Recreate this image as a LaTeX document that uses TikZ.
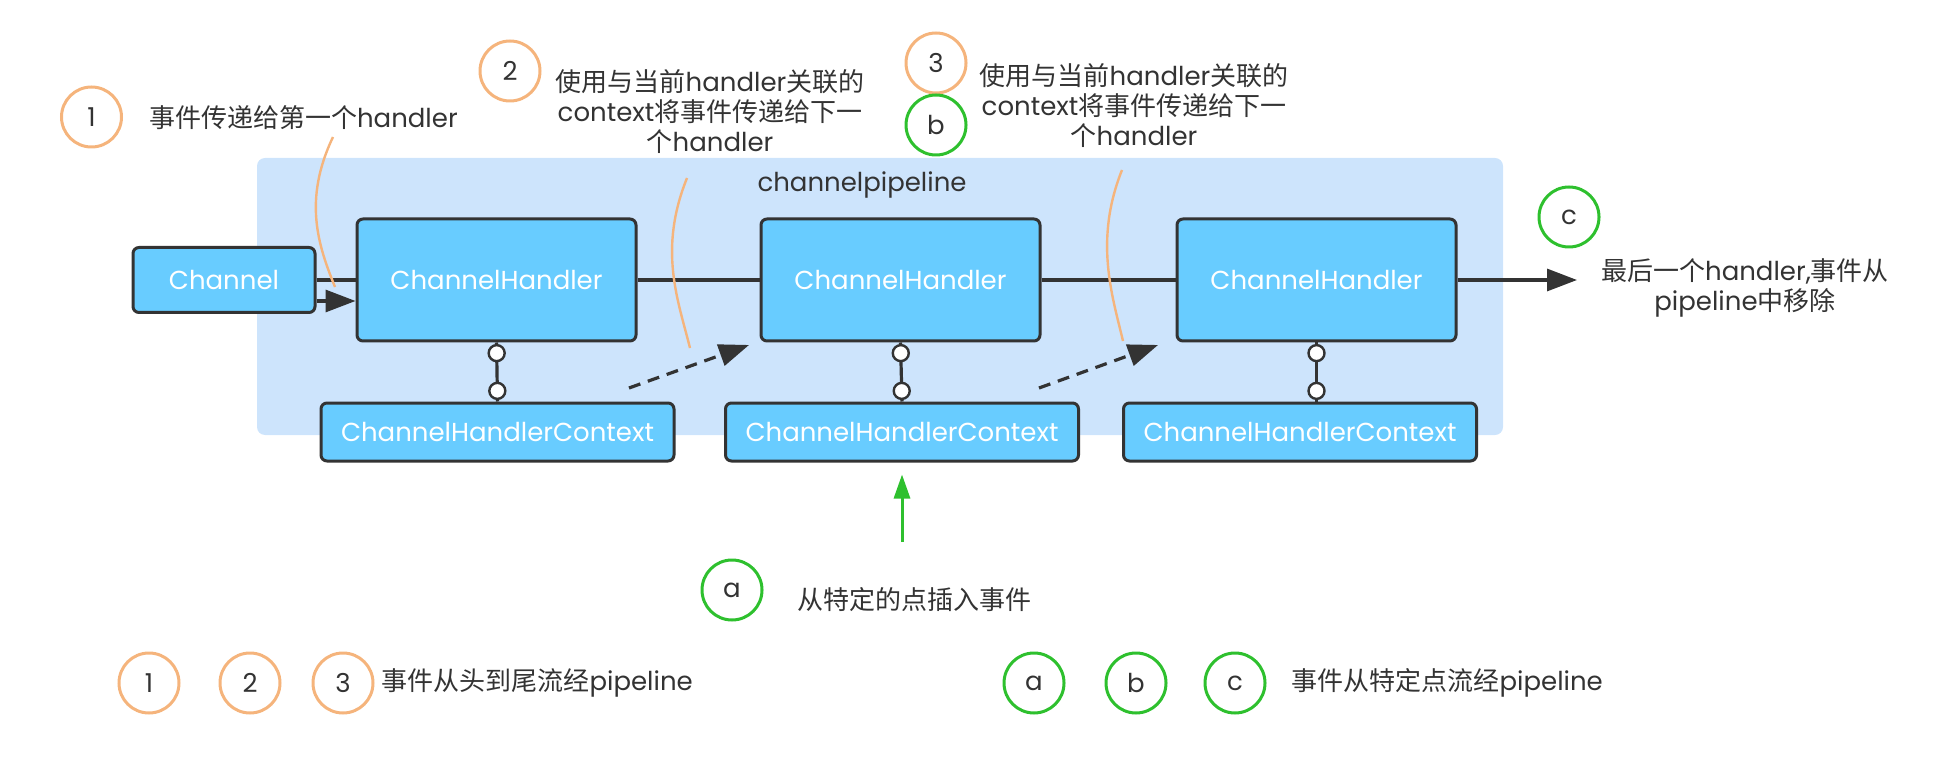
\documentclass[tikz,border=0pt]{standalone}
\usepackage{fontspec}
\setmainfont{Poppins}
\newfontfamily\cjk{Noto Sans CJK SC}
\newcommand{\zh}[1]{{\cjk #1}}
\usetikzlibrary{arrows.meta,positioning}
\definecolor{pipebg}{RGB}{205,228,252}
\definecolor{boxblue}{RGB}{104,204,255}
\definecolor{ink}{RGB}{51,51,51}
\definecolor{ocol}{RGB}{245,180,124}
\definecolor{gcol}{RGB}{46,192,46}

\begin{document}
\begin{tikzpicture}[x=0.5pt,y=-0.5pt,
  every node/.style={font=\fontsize{13}{15}\selectfont, text=ink},
  hbox/.style={draw=ink, line width=1.5pt, fill=boxblue, rounded corners=3pt, inner sep=0pt, text=white},
  ctxbox/.style={hbox, minimum width=176.5pt, minimum height=29pt},
  hdl/.style={hbox, minimum width=139.5pt, minimum height=61pt},
  ocirc/.style={circle, draw=ocol, line width=1.5pt, minimum size=30pt, inner sep=0pt},
  gcirc/.style={ocirc, draw=gcol},
  note/.style={align=center},
  dot/.style={circle, draw=ink, fill=white, line width=1.2pt, minimum size=8pt, inner sep=0pt},
  link/.style={draw=ink, line width=1.6pt},
  arr/.style={link, -{Triangle[length=15pt,width=11pt]}},
  wavy/.style={draw=ocol, line width=1.2pt}]
\useasboundingbox (0,0) rectangle (1942,764);
\fill[pipebg, rounded corners=4pt] (257,158) rectangle (1503,435);
\node (pl) at (862,185) {channelpipeline};

\node[hbox, minimum width=91pt, minimum height=32.5pt] (ch) at (224,280) {Channel};
\node[hdl] (h1) at (496.5,280) {ChannelHandler};
\node[hdl] (h2) at (900.5,280) {ChannelHandler};
\node[hdl] (h3) at (1316.5,280) {ChannelHandler};
\node[ctxbox] (c1) at (497.5,432) {ChannelHandlerContext};
\node[ctxbox] (c2) at (902,432) {ChannelHandlerContext};
\node[ctxbox] (c3) at (1300,432) {ChannelHandlerContext};

\draw[link] (ch.east) -- (h1.west);
\draw[link] (h1.east) -- (h2.west);
\draw[link] (h2.east) -- (h3.west);
\coordinate (out) at (1577,280);
\draw[arr] (h3.east) -- (out);
\draw[arr] ([yshift=-10.5pt]ch.east) -- ([yshift=-10.5pt]h1.west);

\draw[link] (h1.south) -- node[dot,pos=.18]{} node[dot,pos=.82]{} (c1.north);
\draw[link] (h2.south) -- node[dot,pos=.18]{} node[dot,pos=.82]{} (c2.north);
\draw[link] (h3.south) -- node[dot,pos=.18]{} node[dot,pos=.82]{} (h3.south |- c3.north);

\coordinate (d1) at (629,388);
\coordinate (e1) at (749,345);
\coordinate (d2) at (1039,388);
\coordinate (e2) at (1158,345);
\draw[arr, dash pattern=on 6pt off 4pt] (d1) -- (e1);
\draw[arr, dash pattern=on 6pt off 4pt] (d2) -- (e2);

\node[ocirc] (o1) at (91.5,117) {1};
\node[ocirc] (o2) at (510,71) {2};
\node[ocirc] (o3) at (936,63) {3};
\node[gcirc] (gb) at (936,125) {b};
\node[gcirc] (gc) at (1569,217) {c};
\node[gcirc] (ga) at (732,590) {a};

\node[anchor=west] (t1) at (142,118) {\zh{事件传递给第一个}handler};
\node[note] (t2) at (710,112) {\zh{使用与当前}handler\zh{关联的}\\context\zh{将事件传递给下一}\\\zh{个}handler};
\node[note] (t3) at (1134,106) {\zh{使用与当前}handler\zh{关联的}\\context\zh{将事件传递给下一}\\\zh{个}handler};
\node[note] (tc) at (1745,288) {\zh{最后一个}handler,\zh{事件从}\\pipeline\zh{中移除}};
\node[anchor=west] (ta) at (790,600) {\zh{从特定的点插入事件}};

\coordinate (w1) at (333,137);
\coordinate (w2) at (687,178);
\coordinate (w3) at (1122,170);
\draw[wavy] (w1) .. controls (303,200) and (318,245) .. (335,287);
\draw[wavy] (w2) .. controls (658,250) and (678,300) .. (690,348);
\draw[wavy] (w3) .. controls (1094,240) and (1112,295) .. (1123,341);

\coordinate (ins) at (902,542);
\draw[gcol, line width=1.5pt, -{Triangle[length=12pt,width=8pt]}] (ins) -- ([yshift=-6pt]c2.south);

\node[ocirc] (l1) at (149,683) {1};
\node[ocirc] (l2) at (250,683) {2};
\node[ocirc] (l3) at (343,683) {3};
\node[right=0pt of l3] (lt1) {\zh{事件从头到尾流经}pipeline};
\node[gcirc] (la) at (1034,683) {a};
\node[gcirc] (lb) at (1136,683) {b};
\node[gcirc] (lc) at (1235,683) {c};
\node[right=9pt of lc] (lt2) {\zh{事件从特定点流经}pipeline};
\end{tikzpicture}
\end{document}
